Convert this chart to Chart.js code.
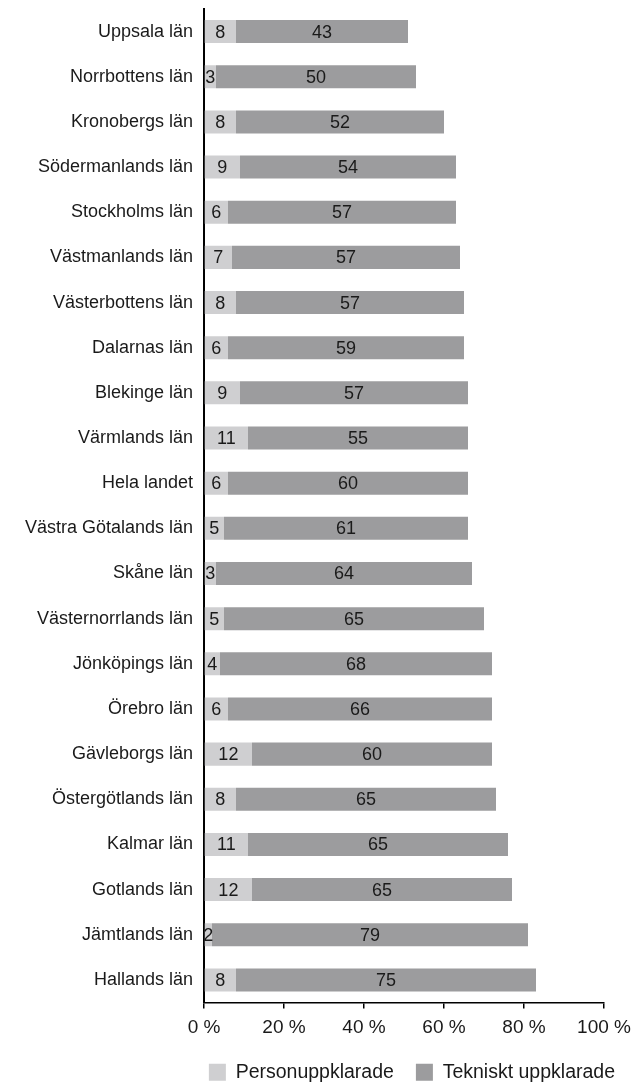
<!DOCTYPE html>
<html>
<head>
<meta charset="utf-8">
<script src="https://cdn.jsdelivr.net/npm/chart.js@4/dist/chart.umd.min.js"></script>
<style>
html,body{margin:0;padding:0;background:#fff;}
#wrap{width:632px;height:1084px;position:relative;}
</style>
</head>
<body>
<div id="wrap"><canvas id="c"></canvas></div>
<script>
const categories = ["Uppsala län","Norrbottens län","Kronobergs län","Södermanlands län","Stockholms län","Västmanlands län","Västerbottens län","Dalarnas län","Blekinge län","Värmlands län","Hela landet","Västra Götalands län","Skåne län","Västernorrlands län","Jönköpings län","Örebro län","Gävleborgs län","Östergötlands län","Kalmar län","Gotlands län","Jämtlands län","Hallands län"];
const personuppklarade = [8,3,8,9,6,7,8,6,9,11,6,5,3,5,4,6,12,8,11,12,2,8];
const tekniskt = [43,50,52,54,57,57,57,59,57,55,60,61,64,65,68,66,60,65,65,65,79,75];
const xTicks = [0,20,40,60,80,100];
const seriesNames = ["Personuppklarade","Tekniskt uppklarade"];

const FONT = "'Liberation Sans', Arial, sans-serif";
const TEXT = '#1a1a1a';

const labelPlugin = {
  id:'barLabels',
  afterLayout(chart){
    if (chart.legend) { chart.legend.right = 637; }
  },
  afterDatasetsDraw(chart){
    const ctx = chart.ctx;
    ctx.save();
    ctx.font = '18px ' + FONT;
    ctx.fillStyle = TEXT;
    ctx.textAlign = 'center';
    ctx.textBaseline = 'middle';
    chart.data.datasets.forEach((ds, di) => {
      const meta = chart.getDatasetMeta(di);
      meta.data.forEach((el, i) => {
        const p = el.getProps(['x','y','base'], true);
        const cx = (p.x + p.base)/2;
        ctx.fillText(String(ds.data[i]), cx, p.y + 1);
      });
    });
    ctx.restore();
  }
};

new Chart(document.getElementById('c'), {
  type:'bar',
  data:{
    labels: categories,
    datasets:[
      {label: seriesNames[0], data: personuppklarade, backgroundColor:'#cfcfd1', barPercentage:0.51, categoryPercentage:1},
      {label: seriesNames[1], data: tekniskt, backgroundColor:'#9c9c9e', barPercentage:0.51, categoryPercentage:1}
    ]
  },
  options:{
    indexAxis:'y',
    responsive:true,
    maintainAspectRatio:false,
    animation:false,
    layout:{padding:{top:0,right:0,left:0,bottom:-8}},
    plugins:{
      legend:{
        position:'bottom',
        align:'end',
        labels:{font:{size:19.5,family:FONT},color:TEXT,boxWidth:17,boxHeight:17,padding:22}
      },
      tooltip:{enabled:false}
    },
    scales:{
      x:{
        stacked:true,
        min:0,max:100,
        afterBuildTicks(axis){ axis.ticks = xTicks.map(v=>({value:v})); },
        ticks:{font:{size:19,family:FONT},color:TEXT,padding:8,maxRotation:0,callback:v=>v+' %'},
        grid:{drawOnChartArea:false,drawTicks:true,tickLength:6,color:'#000',lineWidth:1.5},
        border:{display:true,color:'#000',width:1.5},
        afterFit(axis){ axis.height = 38; axis.paddingRight = 28; axis.paddingLeft = 0; }
      },
      y:{
        stacked:true,
        ticks:{font:{size:18,family:FONT},color:TEXT,padding:11,autoSkip:false},
        grid:{display:false,drawTicks:false},
        border:{display:true,color:'#000',width:2},
        afterFit(axis){ axis.width = 204; axis.paddingTop = 9; axis.paddingBottom = 0; }
      }
    }
  },
  plugins:[labelPlugin]
});
</script>
</body>
</html>
